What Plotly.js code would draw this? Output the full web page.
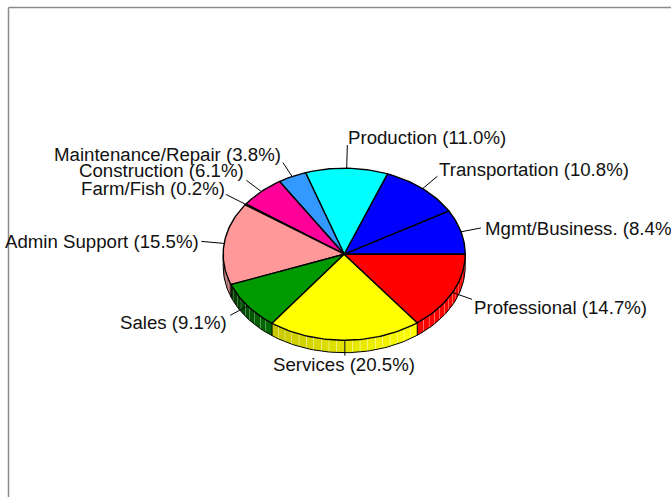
<!DOCTYPE html>
<html>
<head>
<meta charset="utf-8">
<script src="https://cdn.plot.ly/plotly-3.0.1.min.js"></script>
<style>html,body{margin:0;padding:0;background:#fff;overflow:hidden}#chart{width:671px;height:497px}</style>
</head>
<body>
<div id="chart"></div>
<script>
// ---- data ----
const categories = ["Mgmt/Business.","Transportation","Production","Maintenance/Repair","Construction","Farm/Fish","Admin Support","Sales","Services","Professional"];
const shares = [8.4,10.8,11.0,3.8,6.1,0.2,15.5,9.1,20.5,14.7];

// ---- style ----
const sliceColors = [[0,0,255],[0,0,255],[0,255,255],[51,153,255],[255,0,153],[120,60,60],[255,153,153],[0,153,0],[255,255,0],[255,0,0]];
const sideShade = [[1,1],[1,1],[1,1],[1,1],[1,1],[1,1],[0.62,0.68],[0.36,0.72],[0.78,1],[1,1]];

// ---- geometry in pixels of the page ----
const W=671,H=497,CX=344.2,CY=254.2,RX=121,RY=86,DEPTH=12.5;
const leaderReach=[1.17,1.19,1.27,1.18,1.18,1.2,1.19,1.18,1.18,1.18];
const labelAnchor=[[485,228,"left"],[439,169,"left"],[348,137,"left"],[281,154,"right"],[244,170,"right"],[225,188,"right"],[199,241,"right"],[227,322,"right"],[344,364,"center"],[474,307,"left"]];

// data space: unit ellipse radius = 1
const dy=DEPTH/RY;
const xRange=[-CX/RX,(W-CX)/RX], yRange=[(CY-H)/RY,CY/RY];
const px=x=>(x-CX)/RX, py=y=>(CY-y)/RY;
const rad=d=>d*Math.PI/180;
const total=shares.reduce((a,b)=>a+b,0);
let acc=0;
const slices=shares.map(v=>{const a0=acc/total*360;acc+=v;return {a0,a1:acc/total*360};});

const traces=[];
function arc(a0,a1,drop){const n=Math.max(2,Math.ceil((a1-a0)/1.5));const xs=[],ys=[];
  for(let i=0;i<=n;i++){const t=rad(a0+(a1-a0)*i/n);xs.push(Math.cos(t));ys.push(Math.sin(t)-drop);}return {xs,ys};}

// sides: short strips, visible on the lower half only
const STEP=3.7,SEAM=0.22;
slices.forEach((s,i)=>{
  const lo=Math.max(s.a0,180),hi=s.a1;
  if(hi<=180)return;
  const span=hi-lo,[f0,f1]=sideShade[i];
  const n=Math.max(1,Math.round(span/STEP));
  for(let k=0;k<n;k++){
    const a=lo+span*k/n,b=lo+span*(k+1)/n-(k<n-1?SEAM:0);
    const top=arc(a,b,0),bot=arc(a,b,dy);
    const f=f0+(f1-f0)*(k+0.5)/n,c=sliceColors[i].map(v=>Math.round(v*f));
    traces.push({type:"scatter",mode:"lines",hoverinfo:"skip",showlegend:false,
      x:top.xs.concat(bot.xs.slice().reverse()),y:top.ys.concat(bot.ys.slice().reverse()),
      fill:"toself",fillcolor:`rgb(${c})`,line:{width:0,color:`rgb(${c})`}});
  }
});
// side outlines
const bottom=arc(180,360,dy);
traces.push({type:"scatter",mode:"lines",hoverinfo:"skip",showlegend:false,x:bottom.xs,y:bottom.ys,line:{color:"#000",width:1}});
slices.forEach(s=>{ if(s.a1>180&&s.a1<360){const t=rad(s.a1);
  traces.push({type:"scatter",mode:"lines",hoverinfo:"skip",showlegend:false,x:[Math.cos(t),Math.cos(t)],y:[Math.sin(t),Math.sin(t)-dy],line:{color:"#000",width:1}});}});
[180,360].forEach(d=>{const t=rad(d);traces.push({type:"scatter",mode:"lines",hoverinfo:"skip",showlegend:false,x:[Math.cos(t),Math.cos(t)],y:[0,-dy],line:{color:"#000",width:1}});});

// top wedges
slices.forEach((s,i)=>{const e=arc(s.a0,s.a1,0);
  traces.push({type:"scatter",mode:"lines",name:categories[i],hoverinfo:"skip",showlegend:false,
    x:[0].concat(e.xs,[0]),y:[0].concat(e.ys,[0]),fill:"toself",fillcolor:`rgb(${sliceColors[i]})`,
    line:{color:"#000",width:1.4}});
});

// leaders and labels
const annotations=[];
slices.forEach((s,i)=>{const t=rad((s.a0+s.a1)/2),c=Math.cos(t),n=Math.sin(t),r=leaderReach[i];
  traces.push({type:"scatter",mode:"lines",hoverinfo:"skip",showlegend:false,x:[c,c*r],y:[n,n*r],line:{color:"#000",width:1}});
  const [lx,ly,anchor]=labelAnchor[i];
  annotations.push({x:px(lx),y:py(ly),xref:"x",yref:"y",xanchor:anchor,yanchor:"middle",showarrow:false,
    borderpad:0,borderwidth:0,text:`${categories[i]} (${shares[i].toFixed(1)}%)`,
    font:{family:"Liberation Sans, Arial, sans-serif",size:18.65,color:"#111"}});
});

const frameColor="#8c8c8c";
const layout={width:W,height:H,margin:{l:0,r:0,t:0,b:0,pad:0},paper_bgcolor:"#fff",plot_bgcolor:"#fff",showlegend:false,hovermode:false,
  xaxis:{range:xRange,visible:false,fixedrange:true},
  yaxis:{range:yRange,visible:false,fixedrange:true},
  annotations,
  shapes:[
    {type:"line",xref:"paper",yref:"paper",layer:"below",x0:8.5/W,x1:1,y0:1-7.5/H,y1:1-7.5/H,line:{color:frameColor,width:1.5}},
    {type:"line",xref:"paper",yref:"paper",layer:"below",x0:8.5/W,x1:8.5/W,y0:1-7.5/H,y1:0,line:{color:frameColor,width:1.5}}
  ]};
Plotly.newPlot("chart",traces,layout,{displayModeBar:false,staticPlot:true});
</script>
</body>
</html>
